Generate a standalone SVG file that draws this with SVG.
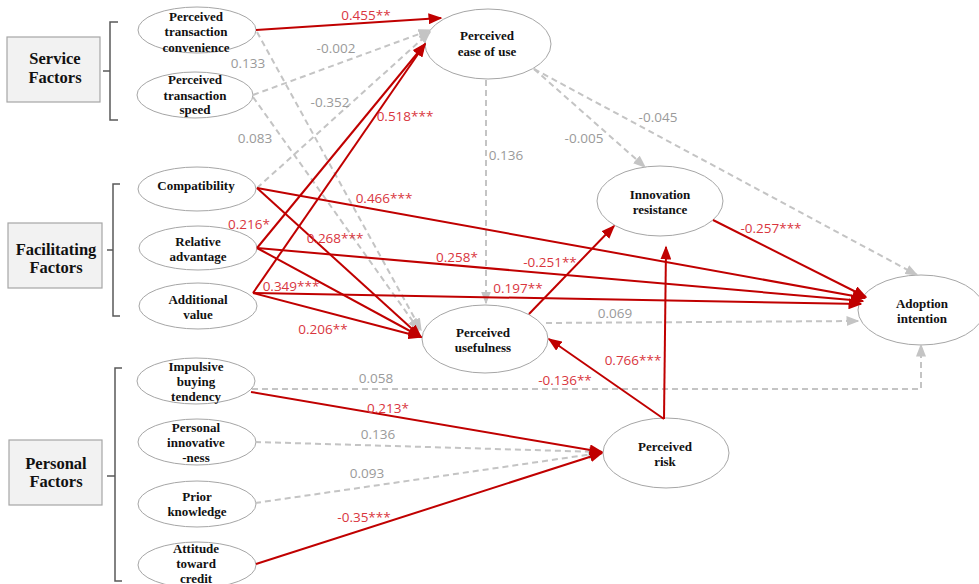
<svg xmlns="http://www.w3.org/2000/svg" width="979" height="584" viewBox="0 0 979 584">
<style>
.nd{fill:#fff;stroke:#a6a6a6;stroke-width:1}
.nt{font-family:"Liberation Serif","Times New Roman",serif;font-weight:bold;font-size:13px;fill:#111;text-anchor:middle}
.bx{fill:#f2f2f2;stroke:#a6a6a6;stroke-width:1.2}
.bt{font-family:"Liberation Serif","Times New Roman",serif;font-weight:bold;font-size:16.5px;fill:#111;text-anchor:middle}
.br{fill:none;stroke:#595959;stroke-width:1.5}
.r{fill:none;stroke:#c00000;stroke-width:2;marker-end:url(#ar)}
.g{fill:none;stroke:#c4c4c4;stroke-width:2;stroke-dasharray:6 4;marker-end:url(#ag)}
.lr{font-family:"Open Sans","Liberation Sans",sans-serif;font-size:13.5px;fill:#d9363e;text-anchor:middle}
.lg{font-family:"Open Sans","Liberation Sans",sans-serif;font-size:13.5px;fill:#9a9a9a;text-anchor:middle}
</style>
<defs>
<marker id="ar" viewBox="0 0 14 11" refX="12.5" refY="5.5" markerWidth="14" markerHeight="11" markerUnits="userSpaceOnUse" orient="auto"><path d="M0,0 L14,5.5 L0,11 z" fill="#c00000"/></marker>
<marker id="ag" viewBox="0 0 13 10" refX="11.5" refY="5" markerWidth="13" markerHeight="10" markerUnits="userSpaceOnUse" orient="auto"><path d="M0,0 L13,5 L0,10 z" fill="#c4c4c4"/></marker>
</defs>
<rect width="979" height="584" fill="#fff"/>

<g id="service-factors">
<rect class="bx" x="7" y="37" width="93" height="65"/>
<text class="bt" x="55" y="64">Service</text>
<text class="bt" x="55" y="83">Factors</text>
<path class="br" d="M118,22 H110 V120 H118 M110,71 H103"/>
</g>
<g id="facilitating-factors">
<rect class="bx" x="8" y="223" width="94" height="65"/>
<text class="bt" x="56" y="255">Facilitating</text>
<text class="bt" x="56" y="273">Factors</text>
<path class="br" d="M120,184 H113 V316 H120 M113,250 H107"/>
</g>
<g id="personal-factors">
<rect class="bx" x="9" y="440" width="93" height="65"/>
<text class="bt" x="56" y="469">Personal</text>
<text class="bt" x="56" y="487">Factors</text>
<path class="br" d="M122,368 H115 V581 H122 M115,476 H107"/>
</g>

<g id="ptc"><ellipse class="nd" cx="197" cy="30" rx="59" ry="23"/>
<text class="nt" x="196" y="20.5">Perceived</text><text class="nt" x="196" y="36">transaction</text><text class="nt" x="196" y="51.5">convenience</text></g>
<g id="pts"><ellipse class="nd" cx="195" cy="95" rx="58" ry="23"/>
<text class="nt" x="195" y="83.5">Perceived</text><text class="nt" x="195" y="99.5">transaction</text><text class="nt" x="195" y="114">speed</text></g>
<g id="compat"><ellipse class="nd" cx="197" cy="189" rx="59" ry="22"/>
<text class="nt" x="196" y="189.5">Compatibility</text></g>
<g id="ra"><ellipse class="nd" cx="198" cy="248" rx="59" ry="22"/>
<text class="nt" x="198" y="245.5">Relative</text><text class="nt" x="198" y="260.5">advantage</text></g>
<g id="av"><ellipse class="nd" cx="198" cy="306" rx="59" ry="23"/>
<text class="nt" x="198" y="303.5">Additional</text><text class="nt" x="198" y="318.5">value</text></g>
<g id="ibt"><ellipse class="nd" cx="196" cy="381" rx="59" ry="23"/>
<text class="nt" x="196" y="371">Impulsive</text><text class="nt" x="196" y="386">buying</text><text class="nt" x="196" y="401">tendency</text></g>
<g id="pi"><ellipse class="nd" cx="197" cy="442" rx="59" ry="23"/>
<text class="nt" x="196" y="431.5">Personal</text><text class="nt" x="196" y="446.5">innovative</text><text class="nt" x="196" y="461.5">-ness</text></g>
<g id="pk"><ellipse class="nd" cx="197" cy="504" rx="59" ry="23"/>
<text class="nt" x="197" y="500.5">Prior</text><text class="nt" x="197" y="515.5">knowledge</text></g>
<g id="atc"><ellipse class="nd" cx="197" cy="565" rx="59" ry="23"/>
<text class="nt" x="196" y="553">Attitude</text><text class="nt" x="196" y="568">toward</text><text class="nt" x="196" y="582.5">credit</text></g>

<g id="peou"><ellipse class="nd" cx="488" cy="44" rx="63" ry="35"/>
<text class="nt" x="487" y="39.5">Perceived</text><text class="nt" x="487" y="56">ease of use</text></g>
<g id="ir"><ellipse class="nd" cx="660" cy="201" rx="63" ry="35"/>
<text class="nt" x="660" y="198.5">Innovation</text><text class="nt" x="660" y="213.5">resistance</text></g>
<g id="pu"><ellipse class="nd" cx="485" cy="339" rx="63" ry="34"/>
<text class="nt" x="483" y="336.5">Perceived</text><text class="nt" x="483" y="351.5">usefulness</text></g>
<g id="pr"><ellipse class="nd" cx="666" cy="453" rx="63" ry="35"/>
<text class="nt" x="665" y="450.5">Perceived</text><text class="nt" x="665" y="465.5">risk</text></g>
<g id="ai"><ellipse class="nd" cx="921" cy="310" rx="63" ry="35"/>
<text class="nt" x="922" y="307.5">Adoption</text><text class="nt" x="922" y="322.5">intention</text></g>

<g id="connectors">
<path class="g" d="M253,95 L430,30"/>
<path class="g" d="M257,188 L430,32"/>
<path class="g" d="M257,32 L421,330"/>
<path class="g" d="M253,97 L419,330"/>
<path class="g" d="M486,80 L486,303"/>
<path class="g" d="M534,69 L645,167"/>
<path class="g" d="M534,69 L917,275"/>
<path class="g" d="M546,323 L858,321"/>
<path class="g" d="M252,389 L921,389 L921,345"/>
<path class="g" d="M255,442 L600,452"/>
<path class="g" d="M255,503 L600,453"/>
<path class="r" d="M256,30 L441,18"/>
<path class="r" d="M257,248 L425,44"/>
<path class="r" d="M253,293 L425,44"/>
<path class="r" d="M257,188 L421,337"/>
<path class="r" d="M257,248 L421,337"/>
<path class="r" d="M253,293 L421,337"/>
<path class="r" d="M257,188 L865,298"/>
<path class="r" d="M257,248 L863,301"/>
<path class="r" d="M253,293 L861,304"/>
<path class="r" d="M713,220 L866,297"/>
<path class="r" d="M529,314 L614,226"/>
<path class="r" d="M664,419 L666,247"/>
<path class="r" d="M664,419 L549,339"/>
<path class="r" d="M251,392 L602,452"/>
<path class="r" d="M256,564 L602,453"/>
</g>

<g id="labels">
<text class="lr" x="366" y="20">0.455**</text>
<text class="lg" x="336" y="53">-0.002</text>
<text class="lg" x="248" y="68">0.133</text>
<text class="lg" x="330" y="107">-0.352</text>
<text class="lg" x="255" y="143">0.083</text>
<text class="lr" x="405" y="121">0.518***</text>
<text class="lr" x="384" y="203">0.466***</text>
<text class="lr" x="249" y="229">0.216*</text>
<text class="lr" x="335" y="243">0.268***</text>
<text class="lr" x="457" y="262">0.258*</text>
<text class="lr" x="550" y="267">-0.251**</text>
<text class="lr" x="291" y="291">0.349***</text>
<text class="lr" x="518" y="293">0.197**</text>
<text class="lr" x="323" y="334">0.206**</text>
<text class="lg" x="506" y="160">0.136</text>
<text class="lg" x="584" y="143">-0.005</text>
<text class="lg" x="658" y="122">-0.045</text>
<text class="lr" x="771" y="233">-0.257***</text>
<text class="lg" x="615" y="318">0.069</text>
<text class="lr" x="633" y="365">0.766***</text>
<text class="lr" x="565" y="385">-0.136**</text>
<text class="lg" x="376" y="383">0.058</text>
<text class="lr" x="388" y="413">0.213*</text>
<text class="lg" x="378" y="439">0.136</text>
<text class="lg" x="367" y="478">0.093</text>
<text class="lr" x="364" y="522">-0.35***</text>
</g>
</svg>
